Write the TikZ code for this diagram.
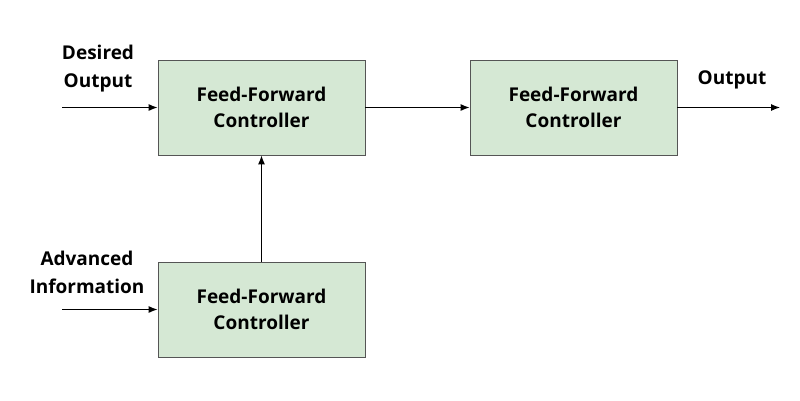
\documentclass[tikz,border=0pt]{standalone}
\usepackage{fontspec}
\setmainfont{Open Sans}
\usetikzlibrary{positioning,arrows.meta}
\definecolor{boxfill}{HTML}{D5E8D4}
\definecolor{boxline}{HTML}{555555}
\tikzset{
  ctrl/.style={draw=boxline,fill=boxfill,line width=0.8pt,minimum width=207pt,minimum height=95pt,align=center,font=\fontsize{19}{26}\selectfont\bfseries},
  lbl/.style={align=center,font=\fontsize{19}{28}\selectfont\bfseries},
  sig/.style={-{Latex[length=9pt,width=7pt]},line width=1.1pt}
}
\begin{document}
\begin{tikzpicture}[x=1pt,y=-1pt]
  \useasboundingbox (0,0) rectangle (800,400);
  \node[ctrl] (ff) at (261.5,107.5) {Feed-Forward\\Controller};
  \node[ctrl] (fb) at (573.5,107.5) {Feed-Forward\\Controller};
  \node[ctrl] (adv) at (261.5,309.5) {Feed-Forward\\Controller};
  \coordinate (din) at (62,107.5);
  \coordinate (ain) at (62,309.5);
  \coordinate (out) at (780,107.5);
  \node[lbl] (dlbl) at (98,69) {Desired\\Output};
  \node[lbl] (albl) at (87,272) {Advanced\\Information};
  \node[lbl] (olbl) at (732,80) {Output};
  \draw[sig] (din) -- (ff);
  \draw[sig] (ff) -- (fb);
  \draw[sig] (fb) -- (out);
  \draw[sig] (ain) -- (adv);
  \draw[sig] (adv) -- (ff);
\end{tikzpicture}
\end{document}
